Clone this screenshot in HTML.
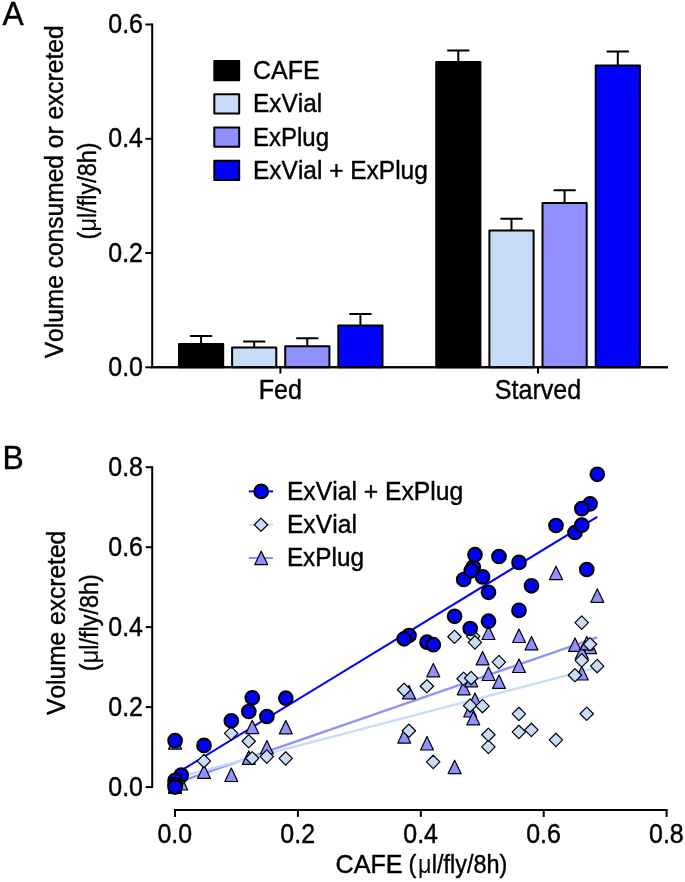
<!DOCTYPE html>
<html lang="en"><head><meta charset="utf-8"><title>Figure</title>
<style>
html,body{margin:0;padding:0;background:#fff;}
svg{display:block;}
tspan.mu{stroke:none;}
text{font-family:"Liberation Sans", sans-serif;fill:#000;font-kerning:none;stroke:#000;stroke-width:0.42px;stroke-linejoin:round;}
.ax{stroke:#000;stroke-width:2;fill:none;}
.eb{stroke:#000;stroke-width:2;fill:none;}
.bar{stroke:#000;stroke-width:2;stroke-linejoin:round;}
.c{fill:#0000ff;stroke:#000;stroke-width:2.1;}
.d{fill:#c8dcf8;stroke:#000;stroke-width:1.2;stroke-linejoin:round;}
.g{fill:#9090ff;stroke:#000;stroke-width:1.2;stroke-linejoin:round;}
</style></head><body>
<svg width="685" height="882" viewBox="0 0 685 882">
<rect width="685" height="882" fill="#fff"/>
<text transform="translate(2.40 25.40) scale(0.9550 1)" font-size="33.4">A</text>
<path class="ax" d="M152.2 23.5 V367.3 M151.2 367.3 H668"/>
<path class="ax" d="M145.4 367.3 H152.2"/>
<text transform="translate(143.00 376.00) scale(0.9355 1)" font-size="26.7" text-anchor="end">0.0</text>
<path class="ax" d="M145.4 253.0 H152.2"/>
<text transform="translate(143.00 261.73) scale(0.9355 1)" font-size="26.7" text-anchor="end">0.2</text>
<path class="ax" d="M145.4 138.8 H152.2"/>
<text transform="translate(143.00 147.47) scale(0.9355 1)" font-size="26.7" text-anchor="end">0.4</text>
<path class="ax" d="M145.4 24.5 H152.2"/>
<text transform="translate(143.00 33.20) scale(0.9355 1)" font-size="26.7" text-anchor="end">0.6</text>
<path class="ax" d="M280.4 367.3 V373.5"/>
<text transform="translate(280.40 398.50) scale(0.9200 1)" font-size="27.3" text-anchor="middle">Fed</text>
<path class="ax" d="M538.0 367.3 V373.5"/>
<text transform="translate(538.00 398.50) scale(0.9200 1)" font-size="27.3" text-anchor="middle">Starved</text>
<text transform="translate(62.90 191.90) rotate(-90) scale(0.9634 1)" font-size="25.5" text-anchor="middle">Volume consumed or excreted</text>
<text transform="translate(95.80 191.00) rotate(-90) scale(0.9200 1)" font-size="25.5" text-anchor="middle"><tspan letter-spacing="0.2">(</tspan><tspan class="mu" letter-spacing="0.1">μ</tspan>l/fly/8h)</text>
<path class="eb" d="M201.1 344.1 V336.1 M190.0 336.1 H212.2"/>
<rect class="bar" x="179.0" y="344.1" width="44.2" height="23.2" fill="#000"/>
<path class="eb" d="M254.2 347.6 V341.4 M243.1 341.4 H265.3"/>
<rect class="bar" x="232.1" y="347.6" width="44.2" height="19.7" fill="#c8dcf8"/>
<path class="eb" d="M307.3 346.2 V338.2 M296.2 338.2 H318.4"/>
<rect class="bar" x="285.2" y="346.2" width="44.2" height="21.1" fill="#9090ff"/>
<path class="eb" d="M360.4 325.4 V313.9 M349.3 313.9 H371.5"/>
<rect class="bar" x="338.3" y="325.4" width="44.2" height="41.9" fill="#0000ff"/>
<path class="eb" d="M458.3 61.9 V50.4 M447.2 50.4 H469.4"/>
<rect class="bar" x="436.2" y="61.9" width="44.2" height="305.4" fill="#000"/>
<path class="eb" d="M511.5 230.4 V218.7 M500.4 218.7 H522.6"/>
<rect class="bar" x="489.4" y="230.4" width="44.2" height="136.9" fill="#c8dcf8"/>
<path class="eb" d="M564.6 203.1 V190.2 M553.5 190.2 H575.7"/>
<rect class="bar" x="542.5" y="203.1" width="44.2" height="164.2" fill="#9090ff"/>
<path class="eb" d="M617.8 65.6 V51.5 M606.7 51.5 H628.9"/>
<rect class="bar" x="595.7" y="65.6" width="44.2" height="301.7" fill="#0000ff"/>
<path class="ax" d="M151.2 367.3 H668"/>
<rect class="bar" x="214.3" y="61.1" width="24.9" height="19.2" fill="#000"/>
<text transform="translate(253.00 79.00) scale(0.9920 1)" font-size="25.2">CAFE</text>
<rect class="bar" x="214.3" y="94.3" width="24.9" height="19.2" fill="#c8dcf8"/>
<text transform="translate(253.00 112.25) scale(0.9680 1)" font-size="25.2">ExVial</text>
<rect class="bar" x="214.3" y="127.6" width="24.9" height="19.2" fill="#9090ff"/>
<text transform="translate(253.00 145.50) scale(0.9530 1)" font-size="25.2">ExPlug</text>
<rect class="bar" x="214.3" y="160.8" width="24.9" height="19.2" fill="#0000ff"/>
<text transform="translate(253.00 178.75) scale(0.9720 1)" font-size="25.2">ExVial + ExPlug</text>
<text transform="translate(2.40 468.80) scale(0.9550 1)" font-size="33.4">B</text>
<path class="ax" d="M152.2 466.2 V788.1"/>
<path class="ax" d="M145.7 787.1 H152.2"/>
<text transform="translate(143.00 795.80) scale(0.9355 1)" font-size="26.7" text-anchor="end">0.0</text>
<path class="ax" d="M145.7 707.1 H152.2"/>
<text transform="translate(143.00 715.82) scale(0.9355 1)" font-size="26.7" text-anchor="end">0.2</text>
<path class="ax" d="M145.7 627.1 H152.2"/>
<text transform="translate(143.00 635.84) scale(0.9355 1)" font-size="26.7" text-anchor="end">0.4</text>
<path class="ax" d="M145.7 547.2 H152.2"/>
<text transform="translate(143.00 555.86) scale(0.9355 1)" font-size="26.7" text-anchor="end">0.6</text>
<path class="ax" d="M145.7 467.2 H152.2"/>
<text transform="translate(143.00 475.88) scale(0.9355 1)" font-size="26.7" text-anchor="end">0.8</text>
<path class="ax" d="M174.0 810.05 H667.6"/>
<path class="ax" d="M175.0 810.05 V816.9"/>
<text transform="translate(174.80 842.50) scale(0.9355 1)" font-size="26.7" text-anchor="middle">0.0</text>
<path class="ax" d="M297.9 810.05 V816.9"/>
<text transform="translate(297.70 842.50) scale(0.9355 1)" font-size="26.7" text-anchor="middle">0.2</text>
<path class="ax" d="M420.8 810.05 V816.9"/>
<text transform="translate(420.60 842.50) scale(0.9355 1)" font-size="26.7" text-anchor="middle">0.4</text>
<path class="ax" d="M543.7 810.05 V816.9"/>
<text transform="translate(543.50 842.50) scale(0.9355 1)" font-size="26.7" text-anchor="middle">0.6</text>
<path class="ax" d="M666.6 810.05 V816.9"/>
<text transform="translate(666.40 842.50) scale(0.9355 1)" font-size="26.7" text-anchor="middle">0.8</text>
<text transform="translate(335.50 873.00) scale(0.9860 1)" font-size="25.5">CAFE</text>
<text transform="translate(507.30 873.00) scale(0.9200 1)" font-size="25.5" text-anchor="end"><tspan letter-spacing="1.8">(</tspan><tspan class="mu" letter-spacing="0.3">μ</tspan>l/fly/8h)</text>
<text transform="translate(64.50 622.90) rotate(-90) scale(0.9634 1)" font-size="25.5" text-anchor="middle">Volume excreted</text>
<text transform="translate(98.20 622.70) rotate(-90) scale(0.9200 1)" font-size="25.5" text-anchor="middle"><tspan letter-spacing="0.2">(</tspan><tspan class="mu" letter-spacing="0.1">μ</tspan>l/fly/8h)</text>
<path d="M175.2 783.3 L597.2 637.4" stroke="#9090ff" stroke-width="2.4" fill="none"/>
<path d="M175.2 778.0 L597.2 667.3" stroke="#c8dcf8" stroke-width="2.4" fill="none"/>
<path d="M175.2 774.2 L597.2 516.8" stroke="#0000ff" stroke-width="2.0" fill="none"/>
<path class="g" d="M175.1 735.7 L181.55 749.1 H168.65 Z"/>
<path class="g" d="M181.3 776.6 L187.75 790.0 H174.85 Z"/>
<path class="g" d="M175.1 776.9 L181.55 790.3 H168.65 Z"/>
<path class="g" d="M175.1 779.1 L181.55 792.5 H168.65 Z"/>
<path class="g" d="M175.1 779.9 L181.55 793.3 H168.65 Z"/>
<path class="g" d="M204.0 765.0 L210.45 778.4 H197.55 Z"/>
<path class="g" d="M231.3 768.1 L237.75 781.5 H224.85 Z"/>
<path class="g" d="M248.8 750.9 L255.25 764.3 H242.35 Z"/>
<path class="g" d="M252.3 720.2 L258.75 733.6 H245.85 Z"/>
<path class="g" d="M266.9 740.5 L273.35 753.9 H260.45 Z"/>
<path class="g" d="M285.8 720.4 L292.25 733.8 H279.35 Z"/>
<path class="g" d="M409.0 685.4 L415.45 698.8 H402.55 Z"/>
<path class="g" d="M404.2 729.7 L410.65 743.1 H397.75 Z"/>
<path class="g" d="M427.0 736.6 L433.45 750.0 H420.55 Z"/>
<path class="g" d="M433.3 663.4 L439.75 676.8 H426.85 Z"/>
<path class="g" d="M454.6 760.2 L461.05 773.6 H448.15 Z"/>
<path class="g" d="M463.7 681.4 L470.15 694.8 H457.25 Z"/>
<path class="g" d="M470.2 703.6 L476.65 717.0 H463.75 Z"/>
<path class="g" d="M473.3 711.4 L479.75 724.8 H466.85 Z"/>
<path class="g" d="M475.0 692.9 L481.45 706.3 H468.55 Z"/>
<path class="g" d="M482.6 651.5 L489.05 664.9 H476.15 Z"/>
<path class="g" d="M471.2 673.4 L477.65 686.8 H464.75 Z"/>
<path class="g" d="M488.5 626.1 L494.95 639.5 H482.05 Z"/>
<path class="g" d="M488.5 667.1 L494.95 680.5 H482.05 Z"/>
<path class="g" d="M499.0 675.0 L505.45 688.4 H492.55 Z"/>
<path class="g" d="M519.0 629.1 L525.45 642.5 H512.55 Z"/>
<path class="g" d="M519.0 659.1 L525.45 672.5 H512.55 Z"/>
<path class="g" d="M531.5 636.5 L537.95 649.9 H525.05 Z"/>
<path class="g" d="M556.0 566.2 L562.45 579.6 H549.55 Z"/>
<path class="g" d="M575.0 637.9 L581.45 651.3 H568.55 Z"/>
<path class="g" d="M590.1 640.2 L596.55 653.6 H583.65 Z"/>
<path class="g" d="M581.8 666.6 L588.25 680.0 H575.35 Z"/>
<path class="g" d="M581.8 645.4 L588.25 658.8 H575.35 Z"/>
<path class="g" d="M586.8 636.4 L593.25 649.8 H580.35 Z"/>
<path class="g" d="M597.3 588.9 L603.75 602.3 H590.85 Z"/>
<path class="d" d="M175.0 778.85 L181.7 785.55 L175.0 792.25 L168.3 785.55 Z"/>
<path class="d" d="M181.2 772.35 L187.9 779.05 L181.2 785.75 L174.5 779.05 Z"/>
<path class="d" d="M175.0 777.35 L181.7 784.05 L175.0 790.75 L168.3 784.05 Z"/>
<path class="d" d="M175.0 779.45 L181.7 786.15 L175.0 792.85 L168.3 786.15 Z"/>
<path class="d" d="M175.0 781.05 L181.7 787.75 L175.0 794.45 L168.3 787.75 Z"/>
<path class="d" d="M203.9 754.35 L210.6 761.05 L203.9 767.75 L197.2 761.05 Z"/>
<path class="d" d="M231.2 726.65 L237.9 733.35 L231.2 740.05 L224.5 733.35 Z"/>
<path class="d" d="M248.7 734.55 L255.4 741.25 L248.7 747.95 L242.0 741.25 Z"/>
<path class="d" d="M252.2 751.55 L258.9 758.25 L252.2 764.95 L245.5 758.25 Z"/>
<path class="d" d="M266.8 749.95 L273.5 756.65 L266.8 763.35 L260.1 756.65 Z"/>
<path class="d" d="M285.7 751.75 L292.4 758.45 L285.7 765.15 L279.0 758.45 Z"/>
<path class="d" d="M408.9 724.05 L415.6 730.75 L408.9 737.45 L402.2 730.75 Z"/>
<path class="d" d="M404.1 683.05 L410.8 689.75 L404.1 696.45 L397.4 689.75 Z"/>
<path class="d" d="M426.9 679.55 L433.6 686.25 L426.9 692.95 L420.2 686.25 Z"/>
<path class="d" d="M433.2 755.25 L439.9 761.95 L433.2 768.65 L426.5 761.95 Z"/>
<path class="d" d="M454.5 630.05 L461.2 636.75 L454.5 643.45 L447.8 636.75 Z"/>
<path class="d" d="M463.6 672.05 L470.3 678.75 L463.6 685.45 L456.9 678.75 Z"/>
<path class="d" d="M470.1 698.85 L476.8 705.55 L470.1 712.25 L463.4 705.55 Z"/>
<path class="d" d="M473.2 629.65 L479.9 636.35 L473.2 643.05 L466.5 636.35 Z"/>
<path class="d" d="M474.9 635.75 L481.6 642.45 L474.9 649.15 L468.2 642.45 Z"/>
<path class="d" d="M482.5 699.35 L489.2 706.05 L482.5 712.75 L475.8 706.05 Z"/>
<path class="d" d="M471.1 671.35 L477.8 678.05 L471.1 684.75 L464.4 678.05 Z"/>
<path class="d" d="M488.4 740.15 L495.1 746.85 L488.4 753.55 L481.7 746.85 Z"/>
<path class="d" d="M488.4 728.05 L495.1 734.75 L488.4 741.45 L481.7 734.75 Z"/>
<path class="d" d="M498.9 655.45 L505.6 662.15 L498.9 668.85 L492.2 662.15 Z"/>
<path class="d" d="M518.9 707.25 L525.6 713.95 L518.9 720.65 L512.2 713.95 Z"/>
<path class="d" d="M518.9 725.25 L525.6 731.95 L518.9 738.65 L512.2 731.95 Z"/>
<path class="d" d="M531.4 723.25 L538.1 729.95 L531.4 736.65 L524.7 729.95 Z"/>
<path class="d" d="M555.9 733.25 L562.6 739.95 L555.9 746.65 L549.2 739.95 Z"/>
<path class="d" d="M574.9 668.55 L581.6 675.25 L574.9 681.95 L568.2 675.25 Z"/>
<path class="d" d="M590.0 637.55 L596.7 644.25 L590.0 650.95 L583.3 644.25 Z"/>
<path class="d" d="M581.7 615.95 L588.4 622.65 L581.7 629.35 L575.0 622.65 Z"/>
<path class="d" d="M581.7 653.65 L588.4 660.35 L581.7 667.05 L575.0 660.35 Z"/>
<path class="d" d="M586.7 707.05 L593.4 713.75 L586.7 720.45 L580.0 713.75 Z"/>
<path class="d" d="M597.2 659.35 L603.9 666.05 L597.2 672.75 L590.5 666.05 Z"/>
<circle class="c" cx="175.1" cy="740.6" r="6.8"/>
<circle class="c" cx="181.3" cy="775.0" r="6.8"/>
<circle class="c" cx="175.1" cy="780.3" r="6.8"/>
<circle class="c" cx="175.1" cy="784.6" r="6.8"/>
<circle class="c" cx="175.1" cy="787.0" r="6.8"/>
<circle class="c" cx="204.0" cy="745.4" r="6.8"/>
<circle class="c" cx="231.3" cy="720.8" r="6.8"/>
<circle class="c" cx="248.8" cy="711.5" r="6.8"/>
<circle class="c" cx="252.3" cy="697.8" r="6.8"/>
<circle class="c" cx="266.9" cy="716.5" r="6.8"/>
<circle class="c" cx="285.8" cy="698.2" r="6.8"/>
<circle class="c" cx="409.0" cy="635.5" r="6.8"/>
<circle class="c" cx="404.2" cy="638.8" r="6.8"/>
<circle class="c" cx="427.0" cy="642.2" r="6.8"/>
<circle class="c" cx="433.3" cy="644.7" r="6.8"/>
<circle class="c" cx="454.6" cy="616.3" r="6.8"/>
<circle class="c" cx="463.7" cy="579.5" r="6.8"/>
<circle class="c" cx="470.2" cy="628.5" r="6.8"/>
<circle class="c" cx="473.3" cy="567.1" r="6.8"/>
<circle class="c" cx="475.0" cy="554.7" r="6.8"/>
<circle class="c" cx="482.6" cy="576.9" r="6.8"/>
<circle class="c" cx="471.2" cy="570.8" r="6.8"/>
<circle class="c" cx="488.5" cy="592.3" r="6.8"/>
<circle class="c" cx="488.5" cy="621.2" r="6.8"/>
<circle class="c" cx="499.0" cy="556.5" r="6.8"/>
<circle class="c" cx="519.0" cy="562.4" r="6.8"/>
<circle class="c" cx="519.0" cy="610.4" r="6.8"/>
<circle class="c" cx="531.5" cy="585.8" r="6.8"/>
<circle class="c" cx="556.0" cy="525.5" r="6.8"/>
<circle class="c" cx="575.0" cy="532.5" r="6.8"/>
<circle class="c" cx="590.1" cy="503.8" r="6.8"/>
<circle class="c" cx="581.8" cy="508.6" r="6.8"/>
<circle class="c" cx="581.8" cy="525.1" r="6.8"/>
<circle class="c" cx="586.8" cy="569.5" r="6.8"/>
<circle class="c" cx="597.3" cy="474.3" r="6.8"/>
<path d="M248.8 491.4 H273.1" stroke="#0000ff" stroke-width="2" fill="none"/>
<circle class="c" cx="261.2" cy="491.4" r="6.8"/>
<text transform="translate(286.90 499.60) scale(0.9800 1)" font-size="25.2">ExVial + ExPlug</text>
<path d="M248.8 524.7 H273.1" stroke="#c8dcf8" stroke-width="2" fill="none"/>
<path class="d" d="M261.0 518.05 L267.7 524.75 L261.0 531.45 L254.3 524.75 Z"/>
<text transform="translate(286.90 532.90) scale(0.9800 1)" font-size="25.2">ExVial</text>
<path d="M248.8 558.0 H273.1" stroke="#9090ff" stroke-width="2" fill="none"/>
<path class="g" d="M261.2 551.2 L267.65 564.6 H254.75 Z"/>
<text transform="translate(286.90 566.20) scale(0.9650 1)" font-size="25.2">ExPlug</text>
</svg></body></html>
